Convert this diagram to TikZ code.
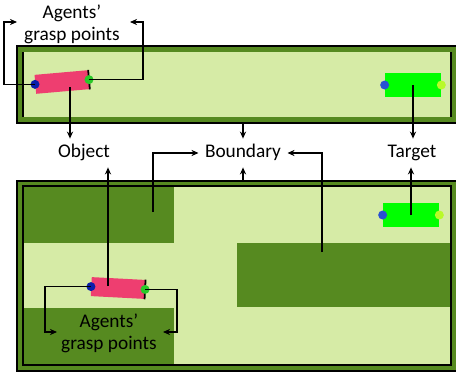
\documentclass[tikz,border=0pt]{standalone}
\usepackage{fontspec}
\setmainfont{Carlito}
\usetikzlibrary{positioning,calc,arrows.meta}

\definecolor{grassdark}{RGB}{86,138,32}
\definecolor{grasslight}{RGB}{214,235,166}
\definecolor{objpink}{RGB}{238,62,112}
\definecolor{goalgreen}{RGB}{0,255,0}
\definecolor{dotblue}{RGB}{10,30,170}
\definecolor{dotgreen}{RGB}{40,200,40}
\definecolor{goalblue}{RGB}{40,80,210}
\definecolor{goallime}{RGB}{185,250,40}

\tikzset{
  lbl/.style={font=\fontsize{11}{13}\selectfont, text height=7pt, text depth=2pt, inner xsep=3.5pt, inner ysep=3.5pt},
  grasplbl/.style={font=\fontsize{11}{12.5}\selectfont, align=center, inner sep=0pt},
  pointer/.style={-{Stealth[length=4pt,width=3.5pt]}, line width=0.8pt},
  graspdot/.style={circle, inner sep=0pt, minimum size=0.18cm},
  objbox/.style={fill=objpink, inner sep=0pt, minimum width=1.07cm, minimum height=0.38cm},
  goalbox/.style={fill=goalgreen, inner sep=0pt, minimum width=1.12cm, minimum height=0.47cm},
  panelrim/.style={fill=grassdark, draw=black, line width=1.2pt}
}

\begin{document}
\begin{tikzpicture}[x=0.02cm, y=-0.02cm]

    % Fix the frame of the picture
    \useasboundingbox (0,0) rectangle (456,379);

    % Draw the upper panel (free space)
    \begin{scope}
      \clip (0,0) rectangle (456,379);
      \filldraw[panelrim] (17,46) rectangle (475,123);
      \fill[grasslight] (23,52) rectangle (451,117);
      \draw[line width=1pt] (23,52) -- (23,117);
      \draw[line width=1pt] (451,52) -- (451,117);

      % Draw the lower panel (with obstacles)
      \filldraw[panelrim] (17,181) rectangle (475,371);
      \fill[grasslight] (23,186) rectangle (451,365);
      \fill[grassdark] (23,186) rectangle (174,243);
      \fill[grassdark] (237,243) rectangle (451,307);
      \fill[grassdark] (23,308) rectangle (174,365);
      \draw[line width=1pt] (23,186) rectangle (451,365);
    \end{scope}

    % Objects and their grasp points
    \node[objbox, rotate=5] (objA) at (62,82) {};
    \draw[line width=1pt] (objA.north east) -- (objA.south east);
    \node[graspdot, fill=dotblue] (gaA) at (objA.west) {};
    \node[graspdot, fill=dotgreen] (gbA) at (objA.east) {};

    \node[objbox, rotate=-3] (objB) at (118,288) {};
    \draw[line width=1pt] (objB.north east) -- (objB.south east);
    \node[graspdot, fill=dotblue] (gaB) at (objB.west) {};
    \node[graspdot, fill=dotgreen] (gbB) at (objB.east) {};

    % Targets
    \node[goalbox] (tgtA) at (413,85) {};
    \node[graspdot, fill=goalblue] (taA) at (tgtA.west) {};
    \node[graspdot, fill=goallime] (tbA) at (tgtA.east) {};

    \node[goalbox] (tgtB) at (411,215) {};
    \node[graspdot, fill=goalblue] (taB) at (tgtB.west) {};
    \node[graspdot, fill=goallime] (tbB) at (tgtB.east) {};

    % Labels
    \node[grasplbl] (graspTop) at (72,24) {Agents’\\grasp points};
    \node[lbl] (object) at (84,153) {Object};
    \node[lbl] (boundary) at (243,153) {Boundary};
    \node[lbl] (target) at (412,153) {Target};
    \node[grasplbl] (graspBot) at (109,333) {Agents’\\grasp points};

    % Free ends and starting points of the pointers
    \coordinate (gpTopL) at (17,22);
    \coordinate (gpTopR) at (130,22);
    \coordinate (gpBotL) at (57,332);
    \coordinate (gpBotR) at (163,332);
    \coordinate (objApin) at (70,87);
    \coordinate (objBpin) at (108,286);
    \coordinate (topEdge) at (243,124);
    \coordinate (botEdge) at (243,180);
    \coordinate (wallA) at (153,212);
    \coordinate (wallB) at (322,252);

    % Pointers to the grasp points labels
    \draw[pointer] (gaA.center) -- ++(-31,0) |- (gpTopL);
    \draw[pointer] (gbA.center) -- ++(54,0) |- (gpTopR);
    \draw[pointer] (gaB.center) -- ++(-46,0) |- (gpBotL);
    \draw[pointer] (gbB.center) -- ++(32,0) |- (gpBotR);

    % Pointers to object, boundary and target
    \draw[pointer] (objApin) -- (objApin |- object.north);
    \draw[pointer] (objBpin) -- (objBpin |- object.south);
    \draw[pointer] (topEdge) -- (boundary.north);
    \draw[pointer] (botEdge) -- (boundary.south);
    \draw[pointer] (wallA) |- (boundary.west);
    \draw[pointer] (wallB) |- (boundary.east);
    \draw[pointer] (tgtA.center) -- (tgtA.center |- target.north);
    \draw[pointer] (tgtB.center) -- (tgtB.center |- target.south);

\end{tikzpicture}
\end{document}
